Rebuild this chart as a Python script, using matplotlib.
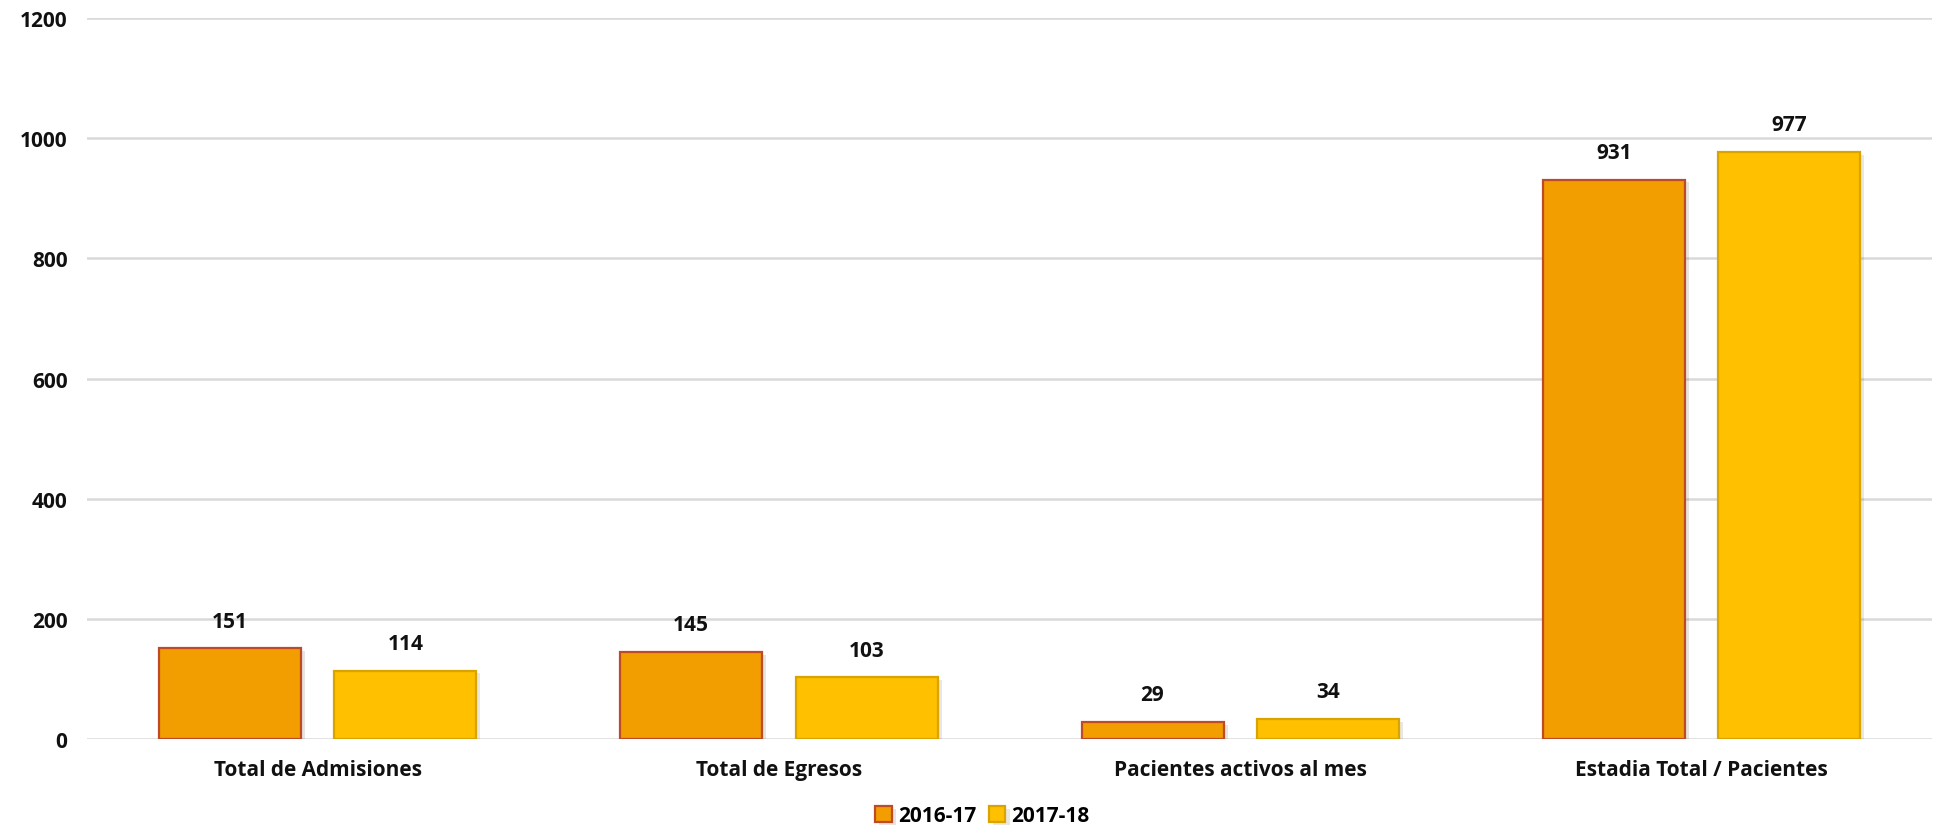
import numpy as np
import matplotlib.pyplot as plt
import matplotlib.patheffects as pe

categorias = ["Total de Admisiones", "Total de Egresos", "Pacientes activos al mes", "Estadia Total / Pacientes"]
serie_2016 = [151, 145, 29, 931]
serie_2017 = [114, 103, 34, 977]
etiquetas = ["2016-17", "2017-18"]

plt.rcParams['font.family'] = ['Open Sans', 'DejaVu Sans']
plt.rcParams['font.weight'] = 'bold'

fig = plt.figure(figsize=(19.34, 8.28), dpi=100)
ax = fig.add_axes([0.045, 0.106, 0.954, 0.871])

x = np.arange(len(categorias))
ancho = 0.308
sombra = [pe.SimplePatchShadow(offset=(3, -2), alpha=0.12), pe.Normal()]
b1 = ax.bar(x - 0.19, serie_2016, ancho, color='#F29D00', edgecolor='#BE4B28', linewidth=1.6,
            label=etiquetas[0], zorder=3, path_effects=sombra)
b2 = ax.bar(x + 0.19, serie_2017, ancho, color='#FFC000', edgecolor='#D9A300', linewidth=1.6,
            label=etiquetas[1], zorder=3, path_effects=sombra)

for barras in (b1, b2):
    for b in barras:
        ax.text(b.get_x() + b.get_width()/2, b.get_height() + 28, str(int(b.get_height())),
                ha='center', va='bottom', fontsize=15, fontweight='bold', color='#111111')

ax.set_xlim(-0.5, 3.5)
ax.set_ylim(0, 1200)
ax.set_yticks(range(0, 1201, 200))
ax.grid(axis='y', color='#D9D9D9', linewidth=1.8, zorder=0)
for s in ax.spines.values():
    s.set_visible(False)
ax.tick_params(axis='both', length=0, labelsize=15, colors='#111111')
ax.tick_params(axis='y', pad=14)
ax.tick_params(axis='x', pad=14)
ax.set_xticks(x)
ax.set_xticklabels(categorias, fontweight='bold')
for t in ax.get_yticklabels():
    t.set_fontweight('bold')

fig.legend(loc='lower center', bbox_to_anchor=(0.508, -0.022), ncol=2, frameon=False,
           prop={'size': 15, 'weight': 'bold'}, handlelength=0.8, handleheight=0.8,
           handletextpad=0.3, columnspacing=0.6)

fig.savefig('out.png', dpi=100)
